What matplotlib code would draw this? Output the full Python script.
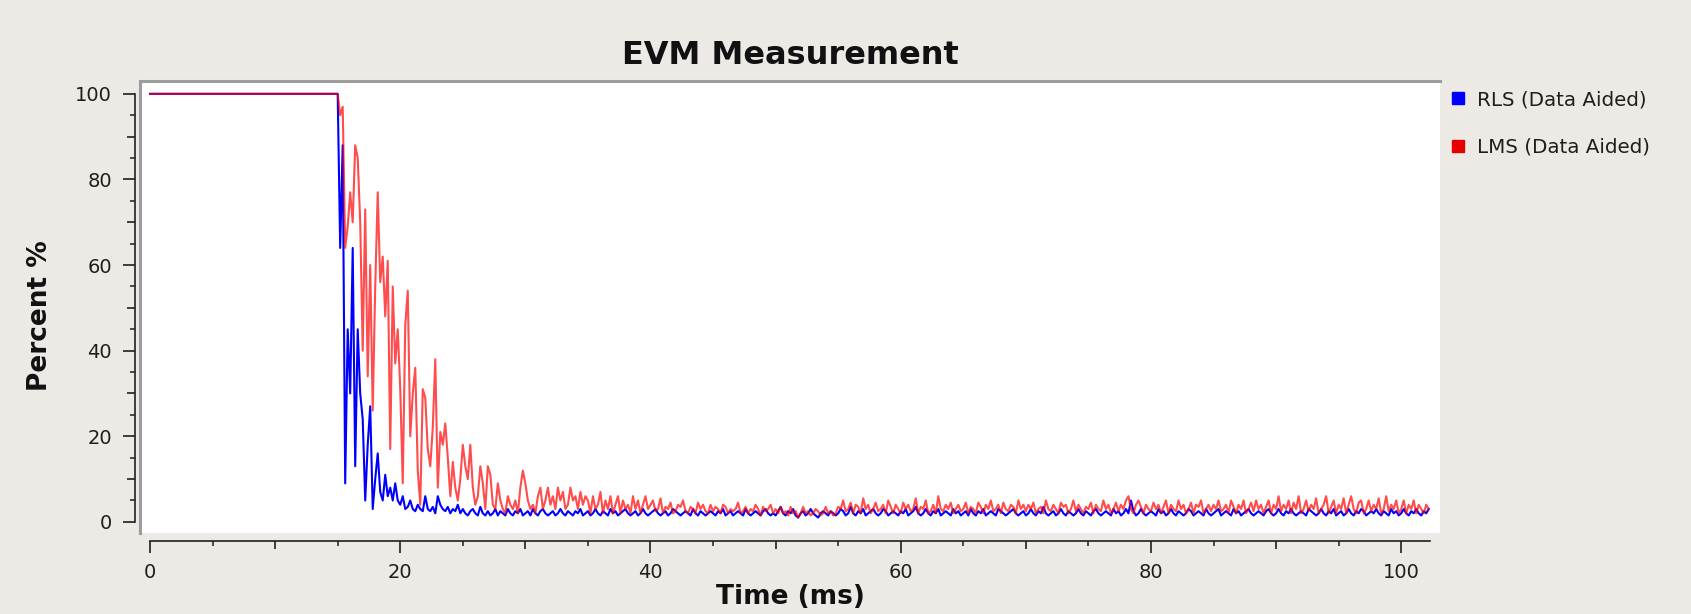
import numpy as np
import matplotlib
matplotlib.use("Agg")
import matplotlib.pyplot as plt
from matplotlib.lines import Line2D
from matplotlib.ticker import MultipleLocator, FuncFormatter

title = "EVM Measurement"
x_label = "Time (ms)"
y_label = "Percent %"
names = ["RLS (Data Aided)", "LMS (Data Aided)"]

# first sample sits at t = 0, the rest start at 15 ms, one every 0.2 ms
drop_ms = 15.0
step_ms = 0.2

rls = [100,
       100, 64, 88, 9, 45, 30, 64, 13, 45, 30, 24, 5, 18, 27, 3, 10, 16, 7, 5, 11, 6, 8, 5, 9, 5,
       4, 6, 3, 3.5, 5, 3, 2.5, 4, 3, 2.5, 6, 3, 2.5, 3.5, 2, 6, 4, 3, 2.5, 3.5, 2, 3, 2.5, 4, 2,
       3, 2, 1.5, 2.5, 3, 2, 1.5, 3.5, 2, 1.5, 2.5, 1.5, 2, 3, 1.5, 2.5, 2, 1.5, 3, 2, 1.5, 2.5, 2, 3, 1.5,
       2, 2.5, 1.5, 3, 2, 1.5, 2.5, 3, 2, 1.5, 2, 2.5, 1.5, 2, 3, 2, 1.5, 2.5, 2, 1.5, 2.5, 2, 3, 1.5, 2,
       2.5, 1.5, 2, 3, 2, 1.5, 2.5, 2, 1.5, 3, 2, 2.5, 1.5, 2, 2.5, 3, 2, 1.5, 2, 2.5, 1.5, 2, 3, 2, 1.5,
       2, 2.5, 3, 2, 1.5, 2, 2.5, 1.5, 2, 3, 2.5, 2, 1.5, 2, 2.5, 2, 1.5, 3, 2, 1.5, 2.5, 2, 1.5, 2, 2.5,
       2, 1.5, 2.5, 2, 3, 1.5, 2, 2.5, 1.5, 2, 2.5, 2, 1.5, 3, 2, 1.5, 2, 2.5, 2, 1.5, 2.5, 3, 2, 1.5, 2,
       1.5, 2.5, 3.5, 2, 1.5, 2.5, 2, 3, 1.5, 1, 2, 2.5, 1.5, 2, 3, 2, 1.5, 1, 2, 2.5, 2, 1.5, 2.5, 2, 1.5,
       2, 3, 2.5, 1.5, 2, 3.5, 2, 1.5, 2.5, 2, 3, 1.5, 2, 2.5, 3, 2, 1.5, 2, 3, 2.5, 1.5, 2, 2.5, 2, 1.5,
       2.5, 2, 3, 1.5, 2, 2.5, 3.5, 2, 1.5, 2, 3, 2, 1.5, 2.5, 2, 3, 1.5, 2, 2.5, 2, 1.5, 3, 2, 2.5, 1.5,
       2, 2.5, 1.5, 3, 2, 1.5, 2.5, 2, 3, 1.5, 2, 2.5, 2, 1.5, 3, 2.5, 2, 1.5, 2, 2.5, 3, 2, 1.5, 2, 2.5,
       1.5, 2, 3, 2, 1.5, 2.5, 2, 3.5, 2, 1.5, 2, 2.5, 1.5, 2, 3, 2, 1.5, 2.5, 2, 1.5, 2, 3, 2, 1.5, 2.5,
       2, 1.5, 2.5, 3, 2, 1.5, 2, 2.5, 2, 1.5, 3, 2, 2.5, 1.5, 2, 3, 2, 5, 2.5, 1.5, 2, 3, 2, 1.5, 2,
       2.5, 2, 1.5, 3, 2, 2.5, 1.5, 2, 3, 2, 1.5, 2.5, 2, 1.5, 2, 3, 2.5, 1.5, 2, 2.5, 2, 1.5, 3, 2, 1.5,
       2, 2.5, 3, 1.5, 2, 2.5, 2, 1.5, 3, 2, 2.5, 1.5, 2, 2.5, 3, 2, 1.5, 2, 2.5, 2, 1.5, 2.5, 3, 2, 1.5,
       2, 3, 2, 1.5, 2.5, 2, 3, 2, 1.5, 2, 2.5, 2, 1.5, 3, 2.5, 2, 1.5, 2, 3, 2, 1.5, 2.5, 2, 3, 1.5,
       2, 2.5, 1.5, 2, 3, 2, 1.5, 2.5, 2, 3, 2.5, 1.5, 2, 2.5, 2, 3, 2, 1.5, 2.5, 2, 1.5, 3, 2, 2.5, 1.5,
       2, 3, 2, 1.5, 2.5, 2, 3, 2, 1.5, 2.5, 2, 3]

lms = [100,
       100, 95, 97, 64, 69, 77, 70, 88, 85, 70, 40, 73, 34, 60, 26, 55, 77, 56, 62, 48, 61, 17, 55, 37, 45,
       31, 9, 46, 54, 20, 30, 36, 12, 4, 31, 29, 17, 13, 22, 38, 8, 21, 18, 23, 15, 6, 14, 8, 5, 10,
       18, 13, 10, 18, 8, 4, 6, 13, 9, 3, 13, 11, 4, 3, 9, 5, 3, 2, 6, 4, 3, 5, 2, 8, 12,
       9, 5, 3, 4, 2, 6, 8, 3, 5, 8, 4, 6, 3, 8, 5, 7, 3, 4, 8, 5, 6, 3, 7, 4, 6,
       5, 2, 6, 3, 4, 7, 2, 5, 3, 6, 2, 4, 6, 2, 5, 3, 4, 2, 6, 3, 5, 2, 4, 6, 3,
       4, 5, 2.5, 3, 5.5, 2, 3.5, 3, 4.5, 2, 2.5, 4, 3.5, 5, 2.5, 2, 3.5, 3, 2, 4.5, 3, 4, 2.5, 2, 4,
       2.5, 3.5, 3, 2, 4, 3.5, 2, 3, 2.5, 3, 4.5, 2, 2.5, 3.5, 2, 3, 2.5, 4, 3, 1.5, 3.5, 2.5, 3, 4, 2,
       3, 2, 3.5, 2, 2.5, 1.5, 3.5, 2, 2.5, 1, 2, 3.5, 2, 2.5, 1.5, 2, 3, 2.5, 1.5, 2, 3.5, 2, 2.5, 1.5, 2,
       3.5, 3, 5, 2.5, 3, 4.5, 2, 4, 3.5, 2, 5.5, 3, 4, 2, 3, 4.5, 2.5, 3, 4, 2, 5, 3.5, 2, 4, 3,
       2, 4.5, 3, 4, 2.5, 3, 5.5, 2, 3.5, 3, 5, 2, 2.5, 4, 2, 6, 3, 2.5, 4, 3, 4.5, 2, 3, 4, 2.5,
       3, 4.5, 2, 3.5, 3, 2, 4.5, 3.5, 2, 4, 3, 5, 2.5, 3, 4, 2, 4.5, 3, 2.5, 4, 3.5, 2, 5, 3, 4,
       2.5, 4, 3, 4.5, 2, 3, 3.5, 2, 5, 3, 2.5, 4, 3, 2, 4.5, 3.5, 4, 2, 3, 5, 2.5, 4, 3, 2, 3.5,
       3, 4.5, 2, 4, 3, 2.5, 5, 3, 4, 2, 3, 4.5, 2.5, 4, 3, 5, 6, 3, 2, 4, 5, 3.5, 2, 4, 3,
       2.5, 4.5, 3, 4, 2, 3.5, 5, 2, 4, 3, 2.5, 5, 3, 4, 2, 3, 4.5, 2, 4, 3.5, 5, 2, 3, 4, 2.5,
       4, 3, 5, 2.5, 3, 4, 2, 5, 3.5, 2, 4, 3, 5, 2, 3, 4.5, 2.5, 5, 3, 4, 2, 3.5, 5, 2, 4,
       3, 6, 2.5, 4, 3, 5, 2, 4.5, 3, 6, 2, 3, 5, 2.5, 4, 3, 5.5, 2, 3, 4, 6, 2, 3.5, 5, 2,
       4, 3, 5.5, 2, 4, 6, 3, 2, 4.5, 5, 2, 3, 5, 2.5, 4, 3, 5.5, 2, 3, 6, 2.5, 4, 3, 5, 2,
       3, 5, 2, 4, 3, 5, 2, 4, 3, 2, 4, 3]


def time_axis(vals):
    return np.r_[0.0, drop_ms + step_ms * np.arange(len(vals) - 1)]


W, H = 1691, 614
bg = "#edeae6"
ink = "#1e1e1e"

fig = plt.figure(figsize=(W / 100, H / 100), dpi=100, facecolor=bg)
# canvas: x 140..1440 px, y 81..533 px
ax = fig.add_axes([140 / W, (H - 533) / H, 1300 / W, 452 / H])
ax.set_facecolor("white")

ax.plot(time_axis(rls), rls, color="#0000ff", lw=1.5, zorder=3)
ax.plot(time_axis(lms), lms, color="#ff0000", lw=1.5, alpha=0.7, zorder=4)

ax.set_xlim(-0.8, 103.1)
ax.set_ylim(-2.6, 103.0)

# sunken canvas frame (top and left only)
ax.plot([0, 0, 1], [0, 1, 1], transform=ax.transAxes, color="#9c9c9c",
        lw=2.2, clip_on=False, zorder=5, solid_joinstyle="miter")

for s in ["top", "right"]:
    ax.spines[s].set_visible(False)
ax.spines["left"].set_position(("outward", 3.6))
ax.spines["left"].set_bounds(0, 100)
ax.spines["bottom"].set_position(("outward", 5.8))
ax.spines["bottom"].set_bounds(0, 102.3)
for s in ["left", "bottom"]:
    ax.spines[s].set_color(ink)
    ax.spines[s].set_linewidth(1.2)

fmt = FuncFormatter(lambda v, p: f"{v:.0f}" if round(v) % 20 == 0 else "")
for axis in (ax.xaxis, ax.yaxis):
    axis.set_major_locator(MultipleLocator(10))
    axis.set_minor_locator(MultipleLocator(5))
    axis.set_major_formatter(fmt)

ax.tick_params(which="major", direction="out", length=8.6, width=1.2,
               color=ink, labelcolor=ink, labelsize=14)
ax.tick_params(axis="x", which="major", pad=7)
ax.tick_params(axis="y", which="major", pad=8)
ax.tick_params(which="minor", direction="out", length=3.4, width=1.1, color=ink)

# qwt style: long ticks at labels, medium ticks in between
for axis in (ax.xaxis, ax.yaxis):
    locs = axis.get_majorticklocs()
    for loc, tick in zip(locs, axis.get_major_ticks(len(locs))):
        tick.tick1line.set_markersize(8.6 if round(loc) % 20 == 0 else 5.8)

fig.text(790 / W, 1 - 55 / H, title, ha="center", va="center",
         fontsize=23, fontweight="bold", color="#111111")
fig.text(790 / W, 1 - 597 / H, x_label, ha="center", va="center",
         fontsize=19, fontweight="bold", color="#111111")
fig.text(40 / W, 1 - 316 / H, y_label, ha="center", va="center", rotation=90,
         fontsize=19, fontweight="bold", color="#111111")

handles = [Line2D([], [], ls="none", marker="s", ms=8.5, color="#0000ff"),
           Line2D([], [], ls="none", marker="s", ms=8.5, color="#e60000")]
fig.legend(handles, names, loc="upper left",
           bbox_to_anchor=(1451 / W, 1 - 90 / H), frameon=False, fontsize=14.3,
           handlelength=0.75, handletextpad=0.55, labelspacing=1.45,
           borderpad=0, borderaxespad=0, labelcolor=ink)

fig.savefig("out.png", dpi=100, facecolor=bg)
